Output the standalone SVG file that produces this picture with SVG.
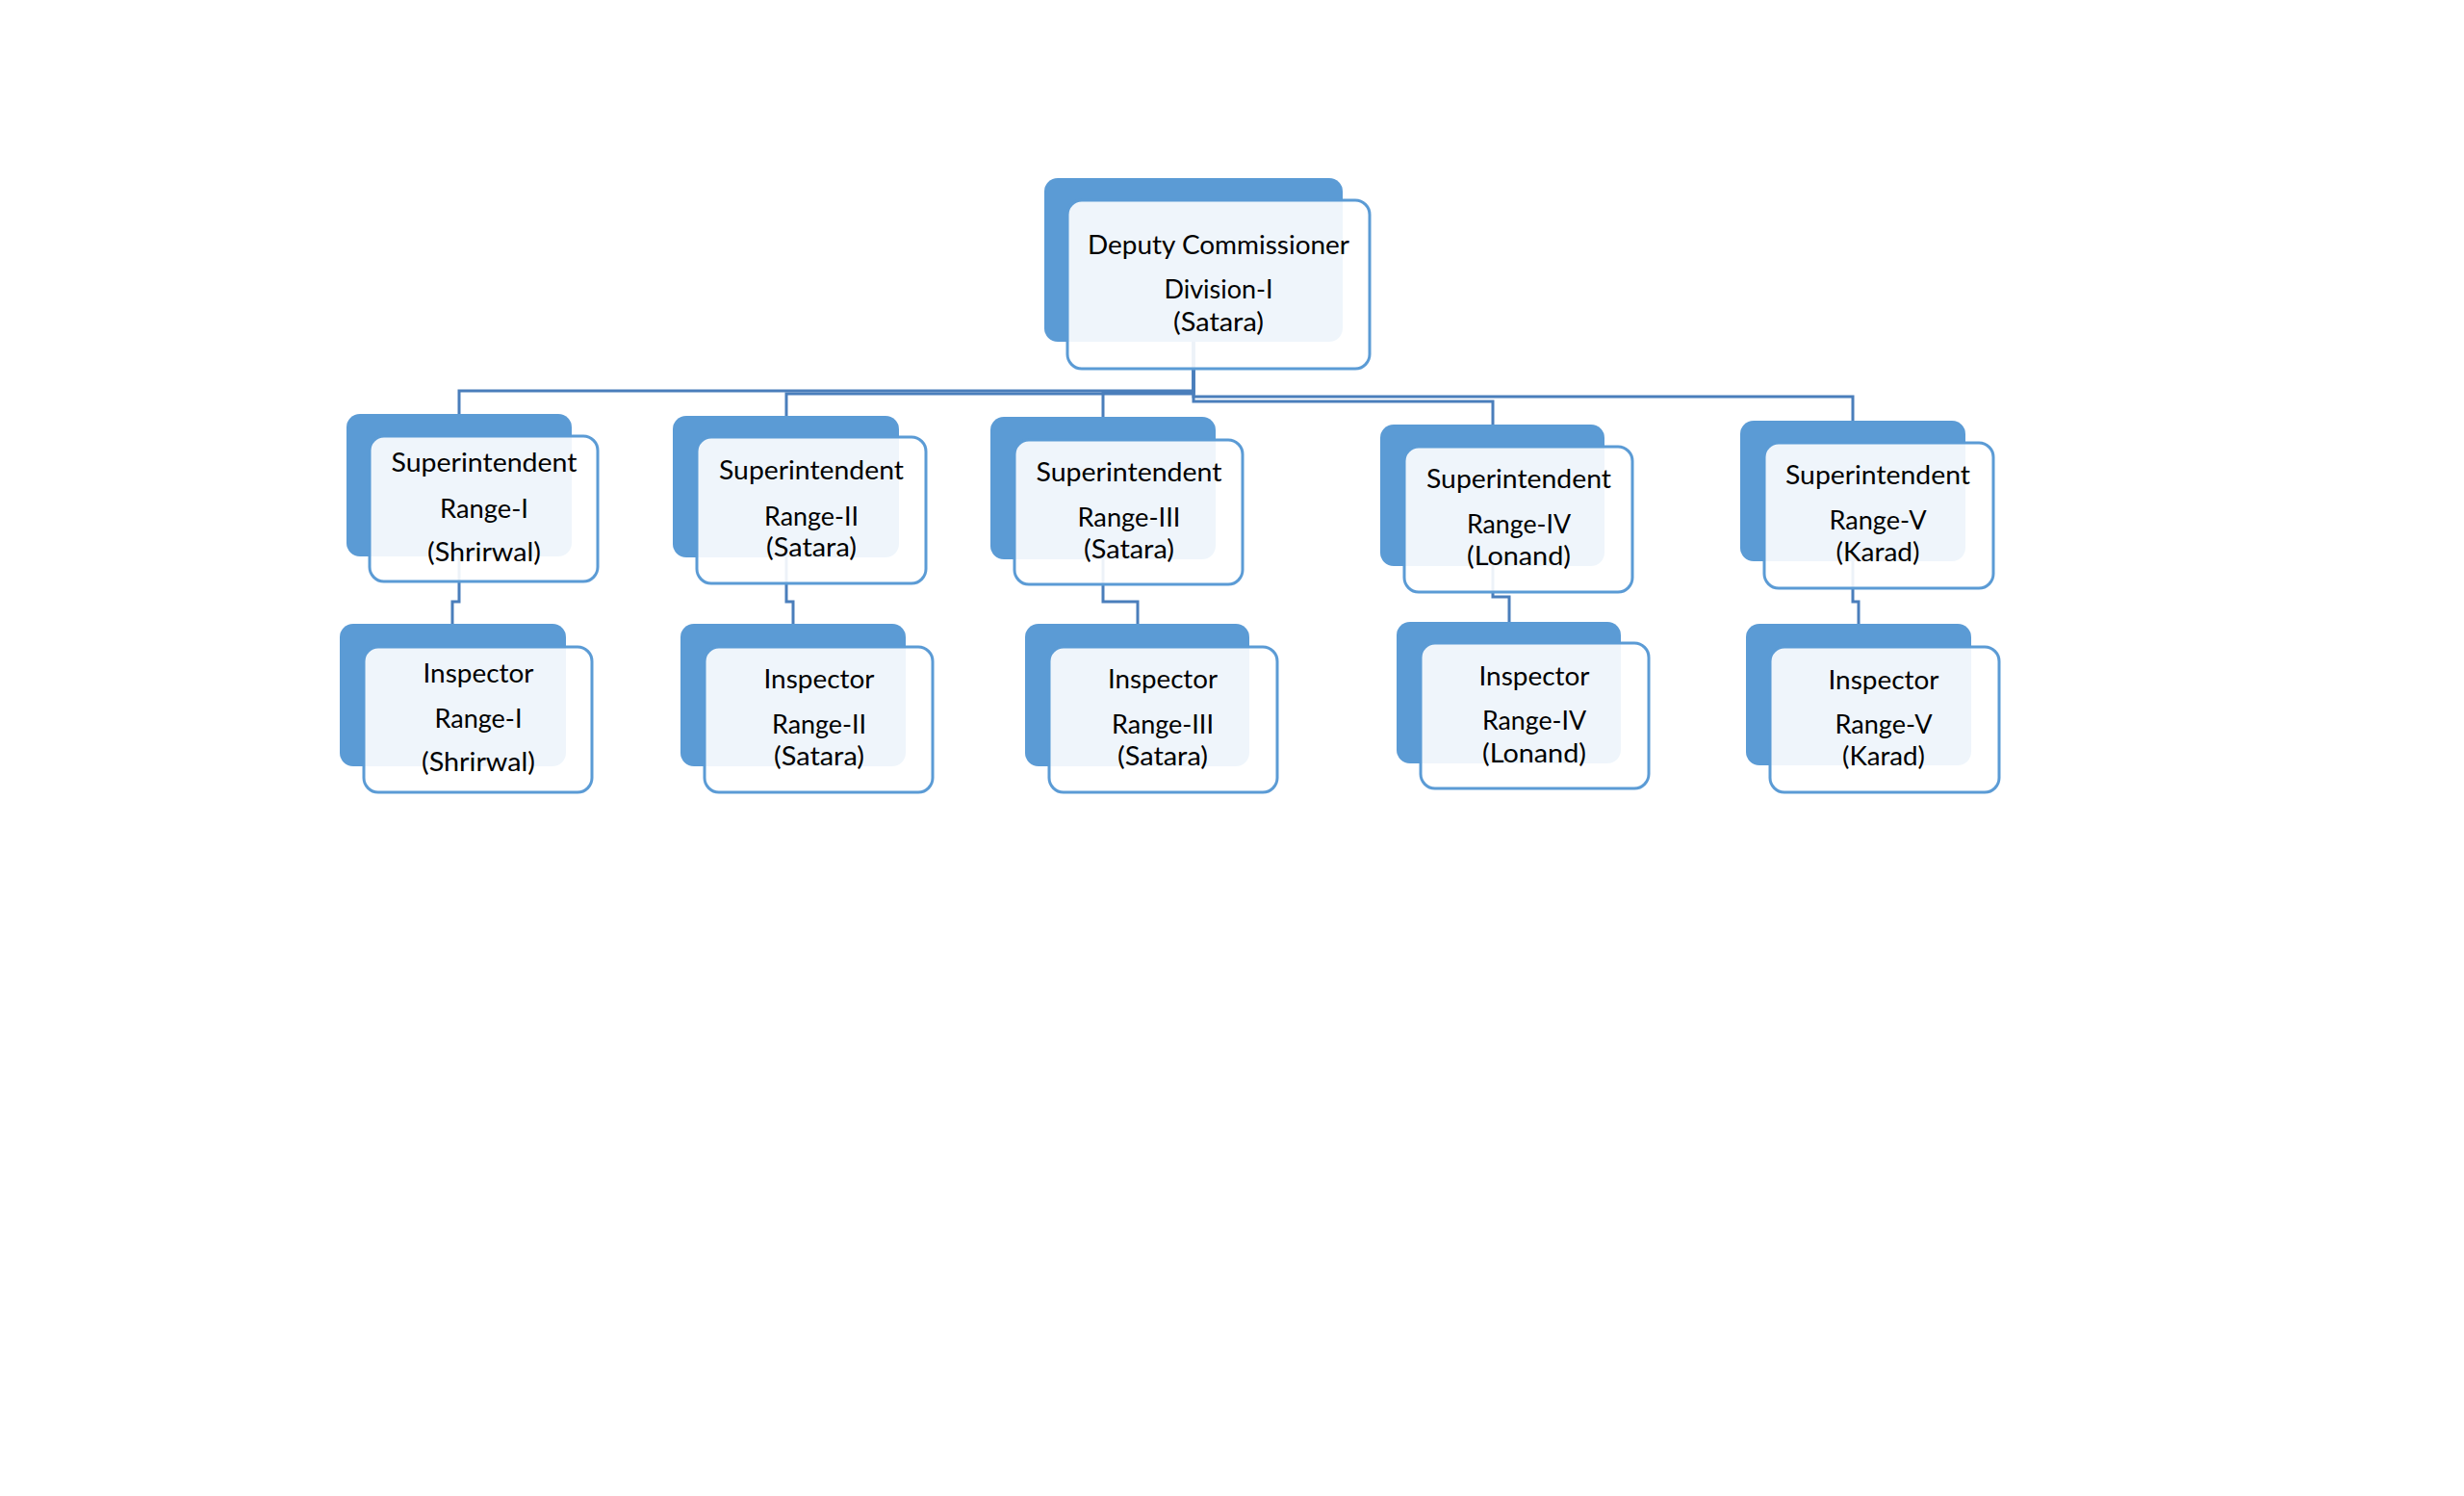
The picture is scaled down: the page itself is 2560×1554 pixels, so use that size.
<svg xmlns="http://www.w3.org/2000/svg" width="2560" height="1554" viewBox="0 0 2560 1554">
<style>
.bg{fill:#ffffff}
.back{fill:#5b9bd5}
.front{fill:#ffffff;fill-opacity:0.9;stroke:#5b9bd5;stroke-width:3}
.t{font-family:Lato,"Liberation Sans",sans-serif;font-size:26px;fill:#000000;text-anchor:middle}
.c{fill:none;stroke:#4a7ebb;stroke-width:3}
</style>
<rect class="bg" x="0" y="0" width="2560" height="1554"/>
<g id="connectors">
<path class="c" d="M1240,355 V406 H477 V430"/>
<path class="c" d="M1240,355 V409 H817 V432"/>
<path class="c" d="M1240,355 V408 H1146 V433"/>
<path class="c" d="M1240,355 V417 H1551 V441"/>
<path class="c" d="M1240,355 V412 H1925 V437"/>
<path class="c" d="M477,578 V625 H470 V648"/>
<path class="c" d="M817,579 V625 H824 V648"/>
<path class="c" d="M1146,581 V625 H1182 V648"/>
<path class="c" d="M1551,588 V620 H1568 V646"/>
<path class="c" d="M1925,583 V625 H1931 V648"/>
</g>
<g id="deputy-commissioner">
<rect class="back" x="1085" y="185" width="310" height="170" rx="14"/>
<rect class="front" x="1109" y="208" width="314" height="175" rx="15"/>
<text class="t" x="1266" y="264" textLength="272" lengthAdjust="spacingAndGlyphs">Deputy Commissioner</text>
<text class="t" x="1266" y="310" textLength="113" lengthAdjust="spacingAndGlyphs">Division-I</text>
<text class="t" x="1266" y="344" textLength="94" lengthAdjust="spacingAndGlyphs">(Satara)</text>
</g>
<g id="superintendent-1">
<rect class="back" x="360" y="430" width="234" height="148" rx="14"/>
<rect class="front" x="384" y="453" width="237" height="151" rx="15"/>
<text class="t" x="503" y="490" textLength="193" lengthAdjust="spacingAndGlyphs">Superintendent</text>
<text class="t" x="503" y="538" textLength="92" lengthAdjust="spacingAndGlyphs">Range-I</text>
<text class="t" x="503" y="583" textLength="118" lengthAdjust="spacingAndGlyphs">(Shrirwal)</text>
</g>
<g id="superintendent-2">
<rect class="back" x="699" y="432" width="235" height="147" rx="14"/>
<rect class="front" x="724" y="454" width="238" height="152" rx="15"/>
<text class="t" x="843" y="498" textLength="192" lengthAdjust="spacingAndGlyphs">Superintendent</text>
<text class="t" x="843" y="546" textLength="98" lengthAdjust="spacingAndGlyphs">Range-II</text>
<text class="t" x="843" y="578" textLength="94" lengthAdjust="spacingAndGlyphs">(Satara)</text>
</g>
<g id="superintendent-3">
<rect class="back" x="1029" y="433" width="234" height="148" rx="14"/>
<rect class="front" x="1054" y="457" width="237" height="150" rx="15"/>
<text class="t" x="1173" y="500" textLength="193" lengthAdjust="spacingAndGlyphs">Superintendent</text>
<text class="t" x="1173" y="547" textLength="107" lengthAdjust="spacingAndGlyphs">Range-III</text>
<text class="t" x="1173" y="580" textLength="94" lengthAdjust="spacingAndGlyphs">(Satara)</text>
</g>
<g id="superintendent-4">
<rect class="back" x="1434" y="441" width="233" height="147" rx="14"/>
<rect class="front" x="1459" y="464" width="237" height="151" rx="15"/>
<text class="t" x="1578" y="507" textLength="192" lengthAdjust="spacingAndGlyphs">Superintendent</text>
<text class="t" x="1578" y="554" textLength="108" lengthAdjust="spacingAndGlyphs">Range-IV</text>
<text class="t" x="1578" y="587" textLength="108" lengthAdjust="spacingAndGlyphs">(Lonand)</text>
</g>
<g id="superintendent-5">
<rect class="back" x="1808" y="437" width="234" height="146" rx="14"/>
<rect class="front" x="1833" y="460" width="238" height="151" rx="15"/>
<text class="t" x="1951" y="503" textLength="192" lengthAdjust="spacingAndGlyphs">Superintendent</text>
<text class="t" x="1951" y="550" textLength="101" lengthAdjust="spacingAndGlyphs">Range-V</text>
<text class="t" x="1951" y="583" textLength="87" lengthAdjust="spacingAndGlyphs">(Karad)</text>
</g>
<g id="inspector-1">
<rect class="back" x="353" y="648" width="235" height="148" rx="14"/>
<rect class="front" x="378" y="672" width="237" height="151" rx="15"/>
<text class="t" x="497" y="709" textLength="115" lengthAdjust="spacingAndGlyphs">Inspector</text>
<text class="t" x="497" y="756" textLength="91" lengthAdjust="spacingAndGlyphs">Range-I</text>
<text class="t" x="497" y="801" textLength="118" lengthAdjust="spacingAndGlyphs">(Shrirwal)</text>
</g>
<g id="inspector-2">
<rect class="back" x="707" y="648" width="234" height="148" rx="14"/>
<rect class="front" x="732" y="672" width="237" height="151" rx="15"/>
<text class="t" x="851" y="715" textLength="115" lengthAdjust="spacingAndGlyphs">Inspector</text>
<text class="t" x="851" y="762" textLength="98" lengthAdjust="spacingAndGlyphs">Range-II</text>
<text class="t" x="851" y="795" textLength="94" lengthAdjust="spacingAndGlyphs">(Satara)</text>
</g>
<g id="inspector-3">
<rect class="back" x="1065" y="648" width="233" height="148" rx="14"/>
<rect class="front" x="1090" y="672" width="237" height="151" rx="15"/>
<text class="t" x="1208" y="715" textLength="114" lengthAdjust="spacingAndGlyphs">Inspector</text>
<text class="t" x="1208" y="762" textLength="106" lengthAdjust="spacingAndGlyphs">Range-III</text>
<text class="t" x="1208" y="795" textLength="94" lengthAdjust="spacingAndGlyphs">(Satara)</text>
</g>
<g id="inspector-4">
<rect class="back" x="1451" y="646" width="233" height="147" rx="14"/>
<rect class="front" x="1476" y="668" width="237" height="151" rx="15"/>
<text class="t" x="1594" y="712" textLength="115" lengthAdjust="spacingAndGlyphs">Inspector</text>
<text class="t" x="1594" y="758" textLength="108" lengthAdjust="spacingAndGlyphs">Range-IV</text>
<text class="t" x="1594" y="792" textLength="108" lengthAdjust="spacingAndGlyphs">(Lonand)</text>
</g>
<g id="inspector-5">
<rect class="back" x="1814" y="648" width="234" height="147" rx="14"/>
<rect class="front" x="1839" y="672" width="238" height="151" rx="15"/>
<text class="t" x="1957" y="716" textLength="115" lengthAdjust="spacingAndGlyphs">Inspector</text>
<text class="t" x="1957" y="762" textLength="101" lengthAdjust="spacingAndGlyphs">Range-V</text>
<text class="t" x="1957" y="795" textLength="86" lengthAdjust="spacingAndGlyphs">(Karad)</text>
</g>
</svg>
